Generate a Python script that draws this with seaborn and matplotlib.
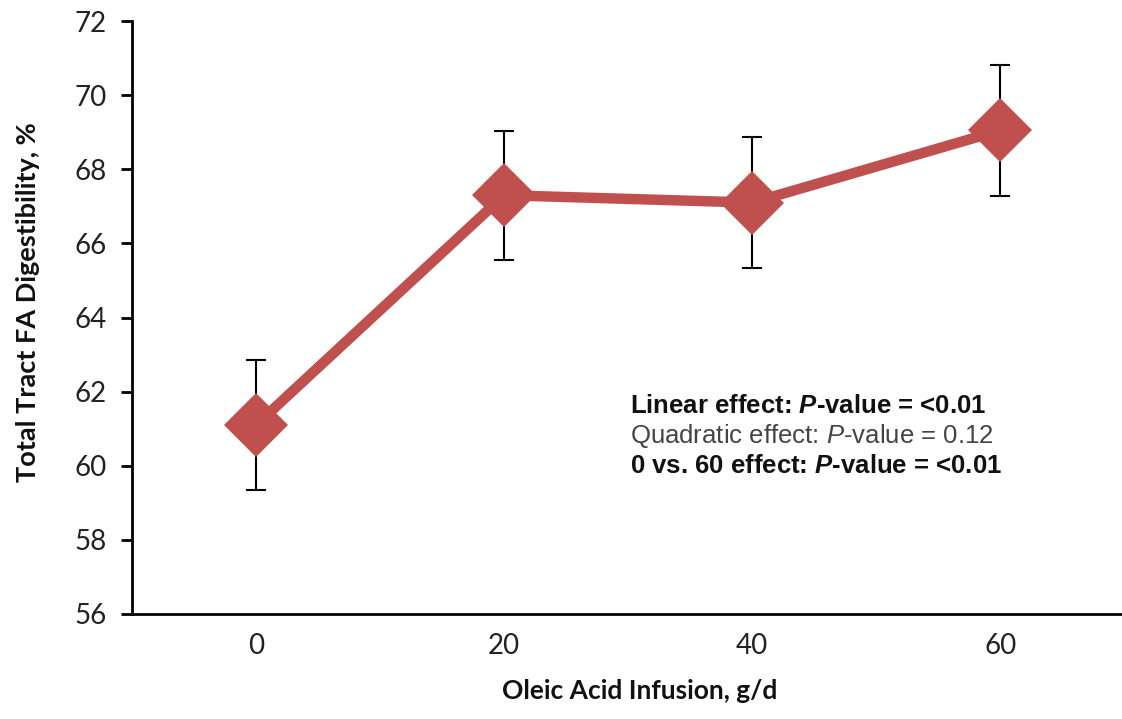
import matplotlib
matplotlib.use("Agg")
import matplotlib.pyplot as plt
import seaborn as sns
import numpy as np
import pandas as pd

categories = ["0", "20", "40", "60"]
digestibility = [61.1, 67.3, 67.1, 69.05]
se = [1.75, 1.74, 1.77, 1.77]
yticks = [56, 58, 60, 62, 64, 66, 68, 70, 72]
stats_lines = [
    (r"Linear effect: $\mathbfit{P}$-value = <0.01", "bold", "#111111"),
    (r"Quadratic effect: $\mathit{P}$-value = 0.12", "normal", "#444444"),
    (r"0 vs. 60 effect: $\mathbfit{P}$-value = <0.01", "bold", "#111111"),
]

sns.set_theme(style="white")
plt.rcParams["font.family"] = ["Lato", "DejaVu Sans"]
plt.rcParams["mathtext.fontset"] = "custom"
plt.rcParams["mathtext.rm"] = "Liberation Sans"
plt.rcParams["mathtext.it"] = "Liberation Sans:italic"
plt.rcParams["mathtext.bf"] = "Liberation Sans:bold"
plt.rcParams["mathtext.bfit"] = "Liberation Sans:italic:bold"

fig = plt.figure(figsize=(11.22, 7.19), dpi=100)
ax = fig.add_axes([132/1122, 105/719, (1122-132)/1122, 593/719])

pos = np.arange(len(categories))
df = pd.DataFrame({"x": pos, "y": digestibility})

ax.errorbar(pos, digestibility, yerr=se, fmt="none", ecolor="black",
            elinewidth=1.5, capsize=7, capthick=1.5, zorder=2)
sns.lineplot(data=df, x="x", y="y", ax=ax, color="#C0504D", linewidth=7.5,
             marker="D", markersize=33, markeredgewidth=0, zorder=3)

ax.set_xlim(-0.5, 3.49)
ax.set_ylim(56, 72)
ax.set_yticks(yticks)
ax.set_xticks(pos)
ax.set_xticklabels(categories)
ax.set_xticks(np.arange(-0.5, 3.5, 1.0), minor=True)
ax.tick_params(axis="x", which="major", length=0, pad=14, labelsize=20, labelcolor="#222222")
ax.tick_params(axis="x", which="minor", length=8, width=2, color="black", direction="out")
ax.tick_params(axis="y", length=8, width=2, color="black", direction="out", pad=10,
               labelsize=20, labelcolor="#222222", left=True)

for s in ["top", "right"]:
    ax.spines[s].set_visible(False)
for s in ["left", "bottom"]:
    ax.spines[s].set_color("black")
    ax.spines[s].set_linewidth(2)

ax.set_xlabel("Oleic Acid Infusion, g/d", fontsize=19, fontweight="bold", color="#111111")
ax.set_ylabel("Total Tract FA Digestibility, %", fontsize=19.5, fontweight="bold", color="#111111")
ax.xaxis.set_label_coords((640-132)/990, -(679-614)/593)
ax.yaxis.set_label_coords((40-132)/990, (719-302-105)/593)

tf = ["Liberation Sans", "DejaVu Sans"]
for i, (txt, w, c) in enumerate(stats_lines):
    fig.text(630/1122, 1 - (406 + 30*i)/719, txt, fontsize=18.5, fontweight=w,
             color=c, family=tf, va="center", ha="left")

fig.savefig("out.png", dpi=100)
